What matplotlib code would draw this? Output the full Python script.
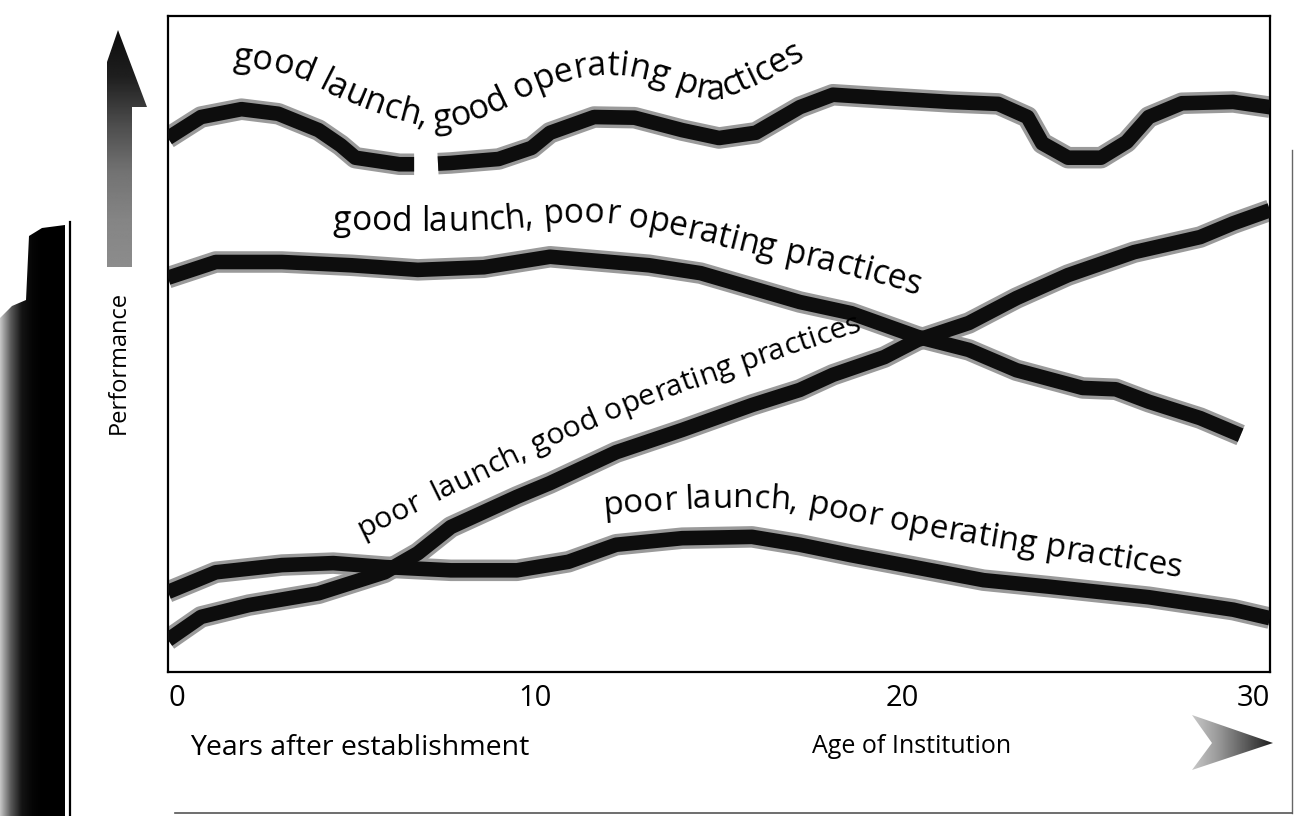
import numpy as np
import matplotlib
matplotlib.use("Agg")
import matplotlib.pyplot as plt
from matplotlib.patches import Polygon
from matplotlib.font_manager import FontProperties, findfont, get_font
from matplotlib.textpath import TextPath
from matplotlib.transforms import IdentityTransform

W, H, DPI = 1297, 816, 100
FAMILY = "Open Sans"
plt.rcParams["font.family"] = [FAMILY, "DejaVu Sans"]

# ---------------- data (years after establishment, performance 0-100) ----------------
years_good_good = [0, 0.9, 2.0, 3.0, 4.1, 4.7, 5.1, 6.3, 6.7, np.nan, 7.35, 7.7, 9.0, 9.9,
                   10.4, 11.6, 12.7, 14.0, 15.0, 16.0, 17.2, 18.1, 19.5, 21.3, 22.6, 23.4,
                   23.8, 24.5, 25.4, 26.1, 26.7, 27.6, 29.0, 30]
perf_good_good = [81.4, 84.6, 85.8, 85.1, 82.6, 80.3, 78.4, 77.4, 77.4, np.nan, 77.5, 77.6,
                  78.2, 79.9, 82.2, 84.6, 84.5, 82.6, 81.4, 82.2, 86.1, 88.0, 87.5, 86.9,
                  86.6, 84.6, 80.6, 78.4, 78.4, 80.8, 84.6, 86.7, 86.9, 86.1]

years_good_poor = [0, 1.3, 3.1, 5.0, 6.8, 8.6, 10.4, 13.1, 14.5, 17.2, 18.6, 19.5, 20.4,
                   21.8, 23.1, 24.9, 25.8, 26.7, 28.1, 29.2]
perf_good_poor = [60.1, 62.5, 62.5, 62.0, 61.3, 61.7, 63.3, 62.0, 60.8, 56.4, 54.7, 52.9,
                  51.1, 49.1, 46.0, 43.3, 43.1, 41.2, 38.7, 36.1]

years_poor_good = [0, 0.9, 2.2, 4.1, 5.9, 6.8, 7.7, 9.5, 10.4, 12.2, 14.0, 15.9, 17.2, 18.1,
                   19.5, 20.4, 21.8, 23.1, 24.5, 26.3, 28.1, 29.0, 30]
perf_poor_good = [4.9, 8.4, 10.2, 12.0, 15.2, 18.1, 22.1, 26.7, 28.8, 33.5, 36.9, 40.7, 43.0,
                  45.3, 48.0, 50.6, 53.2, 57.0, 60.5, 64.0, 66.3, 68.4, 70.4]

years_poor_poor = [0, 1.3, 3.1, 4.5, 5.9, 7.7, 9.5, 10.9, 12.2, 14.0, 15.9, 17.2, 18.6, 20.4,
                   22.2, 24.0, 26.7, 29.0, 30]
perf_poor_poor = [12.2, 15.2, 16.3, 16.6, 16.0, 15.5, 15.5, 16.8, 19.4, 20.4, 20.6, 19.4, 17.8,
                  15.9, 14.0, 13.0, 11.4, 9.5, 8.2]

xticks = [0, 10, 20, 30]
xtick_labels = ["0", "10", "20", "30"]
label_good_good = "good launch, good operating practices"
label_good_poor = "good launch, poor operating practices"
label_poor_good = "poor  launch, good operating practices"
label_poor_poor = "poor launch, poor operating practices"
xlabel = "Years after establishment"
xlabel2 = "Age of Institution"
ylabel = "Performance"

# ---------------- figure ----------------
fig = plt.figure(figsize=(W / DPI, H / DPI), dpi=DPI)
fig.patch.set_facecolor("white")

# decorations layer (page pixel coordinates, y downward)
deco = fig.add_axes([0, 0, 1, 1], zorder=0)
deco.set_xlim(0, W)
deco.set_ylim(H, 0)
deco.axis("off")


def gradient_poly(verts, x0, x1, y0, y1, vals, horizontal=True):
    poly = Polygon(verts, closed=True, facecolor="none", edgecolor="none")
    deco.add_patch(poly)
    n = 200
    pos = np.linspace(0, 1, n)
    g = np.interp(pos, np.linspace(0, 1, len(vals)), vals)
    img = g[None, :] if horizontal else g[:, None]
    im = deco.imshow(img, extent=[x0, x1, y1, y0], cmap="gray", vmin=0, vmax=1,
                     aspect="auto", interpolation="bilinear", zorder=1)
    im.set_clip_path(poly)


# dark book-spine band on the left
gradient_poly([(0, 816), (0, 318), (12, 306), (26, 300), (29, 236), (42, 228), (65, 225), (65, 816)],
              0, 65, 220, 816, [0.78, 0.35, 0.08, 0.02, 0.0, 0.0, 0.0])
deco.plot([70, 70], [222, 816], color="black", lw=1.6, zorder=2)
# page frame
deco.plot([1292, 1292], [150, 813], color="#666666", lw=1.0, zorder=2)
deco.plot([175, 1292], [813, 813], color="#555555", lw=1.2, zorder=2)
# up arrow (performance)
gradient_poly([(107, 267), (107, 62), (118, 30), (147, 107), (132, 107), (132, 267)],
              105, 150, 28, 268, [0.05, 0.12, 0.3, 0.45, 0.52, 0.55], horizontal=False)
# right arrowhead (age of institution)
gradient_poly([(1192, 715), (1273, 743), (1192, 770), (1212, 743)],
              1190, 1275, 713, 772, [0.8, 0.6, 0.35, 0.1])
deco.set_xlim(0, W)
deco.set_ylim(H, 0)

# main axes
L, R, T, B = 168, 1270, 16, 672
ax = fig.add_axes([L / W, 1 - B / H, (R - L) / W, (B - T) / H], zorder=1)
ax.set_xlim(0, 30)
ax.set_ylim(0, 100)
series = [(years_good_good, perf_good_good), (years_good_poor, perf_good_poor),
          (years_poor_good, perf_poor_good), (years_poor_poor, perf_poor_poor)]
for xs, ys in series:
    ax.plot(xs, ys, color="#9a9a9a", lw=15.5, solid_capstyle="butt",
            solid_joinstyle="round", zorder=2)
    ax.plot(xs, ys, color="#0d0d0d", lw=10.5, solid_capstyle="butt",
            solid_joinstyle="round", zorder=3)

ax.set_xticks(xticks, xtick_labels, fontsize=21, fontfamily=FAMILY)
ax.set_yticks([])
ax.tick_params(axis="x", length=0, pad=9)
labs = ax.get_xticklabels()
labs[0].set_ha("left")
labs[-1].set_ha("right")
for sp in ax.spines.values():
    sp.set_linewidth(1.6)
    sp.set_color("black")

ID = IdentityTransform()


def page_text(x, y, s, **kw):
    fig.text(x, H - y, s, transform=ID, family=FAMILY, **kw)


page_text(190, 755, xlabel, fontsize=20.5, ha="left", va="baseline")
page_text(812, 753, xlabel2, fontsize=18, ha="left", va="baseline")
fig.text(125, H - 362, ylabel, transform=ID, family=FAMILY, fontsize=17, rotation=90,
         ha="center", va="baseline", rotation_mode="anchor")


def chaikin(pts, n=4):
    pts = np.asarray(pts, float)
    for _ in range(n):
        q = 0.75 * pts[:-1] + 0.25 * pts[1:]
        r = 0.25 * pts[:-1] + 0.75 * pts[1:]
        mid = np.empty((2 * len(q), 2))
        mid[0::2] = q
        mid[1::2] = r
        pts = np.vstack([pts[:1], mid, pts[-1:]])
    return pts


def path_text(text, pts_page, fs=None, color="black"):
    prop = FontProperties(family=FAMILY)
    font = get_font(findfont(prop))
    font.set_size(100, 72)
    adv = np.array([font.load_char(ord(c)).linearHoriAdvance / 65536.0 / 100.0 for c in text])
    ink = []
    for c in text:
        if c.strip():
            e = TextPath((0, 0), c, size=100, prop=prop).get_extents()
            ink.append((e.x0 + e.x1) / 2 / 100.0)
        else:
            ink.append(0.0)
    ink = np.array(ink)
    pts = chaikin(pts_page)
    pts[:, 1] = H - pts[:, 1]
    d = np.diff(pts, axis=0)
    seg = np.hypot(d[:, 0], d[:, 1])
    cum = np.concatenate([[0.0], np.cumsum(seg)])
    total = cum[-1]
    if fs is None:
        fs = total / (adv.sum() * DPI / 72.0)
    em = fs * DPI / 72.0

    def point(s):
        s = min(max(s, 0.0), total)
        i = min(np.searchsorted(cum, s, side="right") - 1, len(seg) - 1)
        t = (s - cum[i]) / seg[i]
        return pts[i] + t * d[i]

    s = 0.0
    for c, a, k in zip(text, adv * em, ink * em):
        if c.strip():
            mid = s + k
            p = point(mid)
            h = max(a / 2, 9)
            p0, p1 = point(mid - h), point(mid + h)
            ang = np.degrees(np.arctan2(p1[1] - p0[1], p1[0] - p0[0]))
            fig.text(p[0], p[1], c, transform=ID, family=FAMILY, fontsize=fs, color=color,
                     ha="center", va="baseline", rotation=ang, rotation_mode="anchor")
        s += a
    return fs


path_text(label_good_good, [(232, 66), (268, 70), (300, 78), (322, 91), (370, 112), (420, 127),
                            (445, 129), (480, 119), (510, 105), (540, 89), (570, 79), (600, 74),
                            (630, 76), (660, 84), (685, 94), (705, 99), (722, 99), (745, 90),
                            (775, 75), (805, 58)])
path_text(label_good_poor, [(333, 230), (420, 231), (500, 230), (560, 222), (610, 223),
                            (660, 232), (710, 243), (760, 256), (850, 275), (918, 295)])
path_text(label_poor_good, [(362, 538), (480, 480), (595, 425), (700, 385), (862, 330)])
path_text(label_poor_poor, [(603, 515), (700, 507), (790, 508), (860, 523), (950, 540),
                            (1040, 555), (1180, 577)])

fig.savefig("out.png", dpi=DPI, facecolor="white")
